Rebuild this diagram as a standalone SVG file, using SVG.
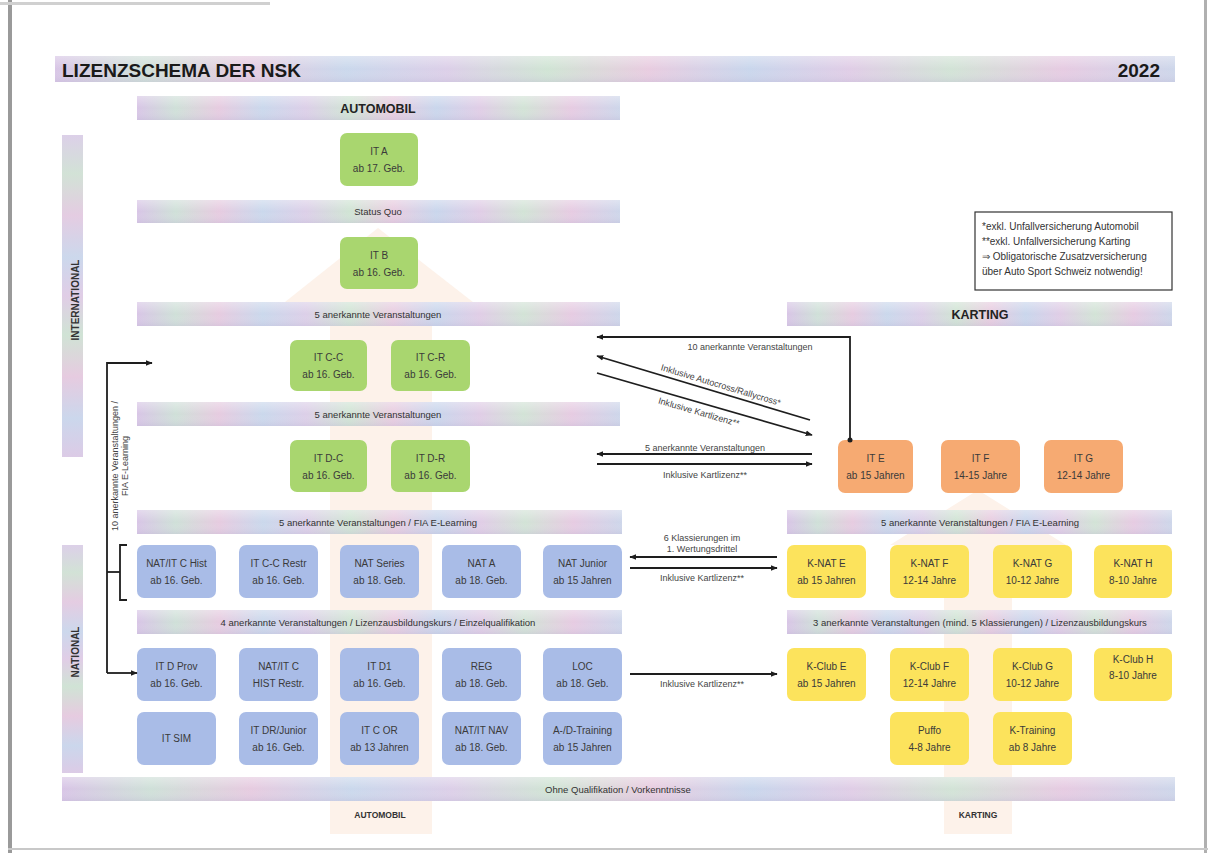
<svg xmlns="http://www.w3.org/2000/svg" width="1218" height="853" viewBox="0 0 1218 853">
<defs>
<linearGradient id="rb" x1="0" y1="0" x2="1" y2="0">
<stop offset="0" stop-color="#d8c5e6"/>
<stop offset="0.08" stop-color="#cfe0d8"/>
<stop offset="0.17" stop-color="#e6cbe0"/>
<stop offset="0.26" stop-color="#cad8ec"/>
<stop offset="0.35" stop-color="#dccfe8"/>
<stop offset="0.44" stop-color="#d0e4d4"/>
<stop offset="0.53" stop-color="#e8cce0"/>
<stop offset="0.62" stop-color="#c9d6ec"/>
<stop offset="0.71" stop-color="#e0cde6"/>
<stop offset="0.80" stop-color="#d2e3d6"/>
<stop offset="0.90" stop-color="#e6cbe2"/>
<stop offset="1" stop-color="#cdd6ea"/>
</linearGradient>
<linearGradient id="rbv" x1="0" y1="0" x2="0" y2="1">
<stop offset="0" stop-color="#dcd0e8"/>
<stop offset="0.12" stop-color="#d2e2d6"/>
<stop offset="0.25" stop-color="#e4cce2"/>
<stop offset="0.38" stop-color="#ccd8ec"/>
<stop offset="0.5" stop-color="#e0cde6"/>
<stop offset="0.62" stop-color="#d0e3d5"/>
<stop offset="0.75" stop-color="#e6cbe0"/>
<stop offset="0.88" stop-color="#cbd7ec"/>
<stop offset="1" stop-color="#dccbe6"/>
</linearGradient>
<linearGradient id="sheen" x1="0" y1="0" x2="0" y2="1">
<stop offset="0" stop-color="#ffffff" stop-opacity="0.35"/>
<stop offset="0.5" stop-color="#ffffff" stop-opacity="0"/>
<stop offset="1" stop-color="#b8b0d0" stop-opacity="0.25"/>
</linearGradient>
<marker id="ah" viewBox="0 0 10 10" refX="9" refY="5" markerWidth="7" markerHeight="7" orient="auto-start-reverse" markerUnits="userSpaceOnUse">
<path d="M0,1 L10,5 L0,9 Z" fill="#1e1e1e"/>
</marker>
<style>
.bar{fill:url(#rb)}
.vbar{fill:url(#rbv)}
.sh{fill:url(#sheen)}
.bt{font-family:"Liberation Sans Narrow","Liberation Sans",Arial,sans-serif;font-size:9.5px;fill:#333;text-anchor:middle}
.bh{font-family:"Liberation Sans",Arial,sans-serif;font-size:12.5px;font-weight:bold;fill:#222;text-anchor:middle}
.g rect{fill:#a9d66f}
.b rect{fill:#a9bce7}
.o rect{fill:#f6aa72}
.y rect{fill:#fce35c}
.nt{font-family:"Liberation Sans Narrow","Liberation Sans",Arial,sans-serif;font-size:10px;fill:#3a3a3a;text-anchor:middle}
.cl{font-family:"Liberation Sans",Arial,sans-serif;font-size:9px;fill:#444;text-anchor:middle}
.conn path,.conn line{stroke:#1e1e1e;stroke-width:1.8;fill:none}
.lg{font-family:"Liberation Sans",Arial,sans-serif;font-size:10px;fill:#333}
.bg{fill:#fdf2ea}
</style>
</defs>
<rect x="0" y="0" width="1218" height="853" fill="#ffffff"/>
<!-- page edges -->
<rect x="8" y="0" width="4" height="853" fill="#9a9a9a"/>
<rect x="1204" y="0" width="3" height="853" fill="#b0b0b0"/>
<rect x="0" y="2" width="270" height="3" fill="#d0d0d0"/>
<rect x="8" y="848" width="1200" height="2" fill="#c8c8c8"/>

<!-- faint background arrows -->
<g id="bg-arrows">
<polygon class="bg" points="280,306 378,228 478,306 432,306 432,834 330,834 330,306"/>
<polygon class="bg" points="890,545 978,490 1066,545 1012,545 1012,834 944,834 944,545"/>
</g>

<!-- title -->
<g id="title">
<rect class="bar" x="55" y="56" width="1120" height="26"/>
<rect class="sh" x="55" y="56" width="1120" height="26"/>
<text x="62" y="77" font-family="Liberation Sans, Arial, sans-serif" font-size="19" font-weight="bold" fill="#1a1a1a">LIZENZSCHEMA DER NSK</text>
<text x="1160" y="77" font-family="Liberation Sans, Arial, sans-serif" font-size="19" font-weight="bold" fill="#1a1a1a" text-anchor="end">2022</text>
</g>

<!-- side bars -->
<g id="side-international">
<rect class="vbar" x="62" y="135" width="21" height="322"/>
<text transform="translate(79,300) rotate(-90)" font-family="Liberation Sans Narrow, Liberation Sans, Arial, sans-serif" font-size="10" font-weight="bold" fill="#333" text-anchor="middle">INTERNATIONAL</text>
</g>
<g id="side-national">
<rect class="vbar" x="62" y="545" width="21" height="228"/>
<text transform="translate(79,652) rotate(-90)" font-family="Liberation Sans Narrow, Liberation Sans, Arial, sans-serif" font-size="10" font-weight="bold" fill="#333" text-anchor="middle">NATIONAL</text>
</g>

<!-- automobile bars -->
<g id="bar-automobil"><rect class="bar" x="137" y="96" width="483" height="24"/><rect class="sh" x="137" y="96" width="483" height="24"/><text class="bh" x="378" y="113">AUTOMOBIL</text></g>
<g id="bar-statusquo"><rect class="bar" x="137" y="200" width="483" height="23"/><rect class="sh" x="137" y="200" width="483" height="23"/><text class="bt" x="378" y="215">Status Quo</text></g>
<g id="bar-auto-5a"><rect class="bar" x="137" y="302" width="483" height="24"/><rect class="sh" x="137" y="302" width="483" height="24"/><text class="bt" x="378" y="318">5 anerkannte Veranstaltungen</text></g>
<g id="bar-auto-5b"><rect class="bar" x="137" y="402" width="483" height="24"/><rect class="sh" x="137" y="402" width="483" height="24"/><text class="bt" x="378" y="418">5 anerkannte Veranstaltungen</text></g>
<g id="bar-auto-fia"><rect class="bar" x="137" y="510" width="485" height="24"/><rect class="sh" x="137" y="510" width="485" height="24"/><text class="bt" x="378" y="526">5 anerkannte Veranstaltungen / FIA E-Learning</text></g>
<g id="bar-auto-4"><rect class="bar" x="137" y="610" width="485" height="24"/><rect class="sh" x="137" y="610" width="485" height="24"/><text class="bt" x="378" y="626">4 anerkannte Veranstaltungen / Lizenzausbildungskurs / Einzelqualifikation</text></g>

<!-- karting bars -->
<g id="bar-karting"><rect class="bar" x="787" y="302" width="385" height="24"/><rect class="sh" x="787" y="302" width="385" height="24"/><text class="bh" x="980" y="319">KARTING</text></g>
<g id="bar-kart-fia"><rect class="bar" x="787" y="510" width="385" height="24"/><rect class="sh" x="787" y="510" width="385" height="24"/><text class="bt" x="980" y="526">5 anerkannte Veranstaltungen / FIA E-Learning</text></g>
<g id="bar-kart-3"><rect class="bar" x="787" y="610" width="385" height="24"/><rect class="sh" x="787" y="610" width="385" height="24"/><text class="bt" x="980" y="626">3 anerkannte Veranstaltungen (mind. 5 Klassierungen) / Lizenzausbildungskurs</text></g>

<!-- bottom bar -->
<g id="bar-ohne"><rect class="bar" x="62" y="777" width="1113" height="24"/><rect class="sh" x="62" y="777" width="1113" height="24"/><text class="bt" x="618" y="793">Ohne Qualifikation / Vorkenntnisse</text></g>
<g id="label-automobil-bottom"><text x="380" y="818" font-family="Liberation Sans Narrow, Liberation Sans, Arial, sans-serif" font-size="8.5" font-weight="bold" fill="#333" text-anchor="middle">AUTOMOBIL</text></g>
<g id="label-karting-bottom"><text x="978" y="818" font-family="Liberation Sans Narrow, Liberation Sans, Arial, sans-serif" font-size="8.5" font-weight="bold" fill="#333" text-anchor="middle">KARTING</text></g>

<!-- legend -->
<g id="legend">
<rect x="975" y="212" width="197" height="78" fill="#ffffff" stroke="#333" stroke-width="1.2"/>
<text class="lg" x="982" y="230">*exkl. Unfallversicherung Automobil</text>
<text class="lg" x="982" y="245">**exkl. Unfallversicherung Karting</text>
<text class="lg" x="982" y="260">⇒ Obligatorische Zusatzversicherung</text>
<text class="lg" x="982" y="275">über Auto Sport Schweiz notwendig!</text>
</g>

<!-- green nodes -->
<g id="it-a" class="g"><rect x="340" y="133" width="78" height="53" rx="7"/><text class="nt" x="379" y="155">IT A</text><text class="nt" x="379" y="172">ab 17. Geb.</text></g>
<g id="it-b" class="g"><rect x="340" y="237" width="78" height="52" rx="7"/><text class="nt" x="379" y="259">IT B</text><text class="nt" x="379" y="276">ab 16. Geb.</text></g>
<g id="it-c-c" class="g"><rect x="290" y="340" width="77" height="51" rx="7"/><text class="nt" x="328.5" y="361">IT C-C</text><text class="nt" x="328.5" y="378">ab 16. Geb.</text></g>
<g id="it-c-r" class="g"><rect x="391" y="340" width="79" height="51" rx="7"/><text class="nt" x="430.5" y="361">IT C-R</text><text class="nt" x="430.5" y="378">ab 16. Geb.</text></g>
<g id="it-d-c" class="g"><rect x="290" y="440" width="77" height="52" rx="7"/><text class="nt" x="328.5" y="462">IT D-C</text><text class="nt" x="328.5" y="479">ab 16. Geb.</text></g>
<g id="it-d-r" class="g"><rect x="391" y="440" width="79" height="52" rx="7"/><text class="nt" x="430.5" y="462">IT D-R</text><text class="nt" x="430.5" y="479">ab 16. Geb.</text></g>

<!-- blue nodes row 1 -->
<g id="nat-it-c-hist" class="b"><rect x="137" y="545" width="79" height="53" rx="7"/><text class="nt" x="176.5" y="567">NAT/IT C Hist</text><text class="nt" x="176.5" y="584">ab 16. Geb.</text></g>
<g id="it-c-c-restr" class="b"><rect x="239" y="545" width="79" height="53" rx="7"/><text class="nt" x="278.5" y="567">IT C-C Restr</text><text class="nt" x="278.5" y="584">ab 16. Geb.</text></g>
<g id="nat-series" class="b"><rect x="340" y="545" width="79" height="53" rx="7"/><text class="nt" x="379.5" y="567">NAT Series</text><text class="nt" x="379.5" y="584">ab 18. Geb.</text></g>
<g id="nat-a" class="b"><rect x="442" y="545" width="79" height="53" rx="7"/><text class="nt" x="481.5" y="567">NAT A</text><text class="nt" x="481.5" y="584">ab 18. Geb.</text></g>
<g id="nat-junior" class="b"><rect x="543" y="545" width="79" height="53" rx="7"/><text class="nt" x="582.5" y="567">NAT Junior</text><text class="nt" x="582.5" y="584">ab 15 Jahren</text></g>
<!-- blue nodes row 2 -->
<g id="it-d-prov" class="b"><rect x="137" y="648" width="79" height="53" rx="7"/><text class="nt" x="176.5" y="670">IT D Prov</text><text class="nt" x="176.5" y="687">ab 16. Geb.</text></g>
<g id="nat-it-c-hist-restr" class="b"><rect x="239" y="648" width="79" height="53" rx="7"/><text class="nt" x="278.5" y="670">NAT/IT C</text><text class="nt" x="278.5" y="687">HIST Restr.</text></g>
<g id="it-d1" class="b"><rect x="340" y="648" width="79" height="53" rx="7"/><text class="nt" x="379.5" y="670">IT D1</text><text class="nt" x="379.5" y="687">ab 16. Geb.</text></g>
<g id="reg" class="b"><rect x="442" y="648" width="79" height="53" rx="7"/><text class="nt" x="481.5" y="670">REG</text><text class="nt" x="481.5" y="687">ab 18. Geb.</text></g>
<g id="loc" class="b"><rect x="543" y="648" width="79" height="53" rx="7"/><text class="nt" x="582.5" y="670">LOC</text><text class="nt" x="582.5" y="687">ab 18. Geb.</text></g>
<!-- blue nodes row 3 -->
<g id="it-sim" class="b"><rect x="137" y="712" width="79" height="53" rx="7"/><text class="nt" x="176.5" y="742">IT SIM</text></g>
<g id="it-dr-junior" class="b"><rect x="239" y="712" width="79" height="53" rx="7"/><text class="nt" x="278.5" y="734">IT DR/Junior</text><text class="nt" x="278.5" y="751">ab 16. Geb.</text></g>
<g id="it-c-or" class="b"><rect x="340" y="712" width="79" height="53" rx="7"/><text class="nt" x="379.5" y="734">IT C OR</text><text class="nt" x="379.5" y="751">ab 13 Jahren</text></g>
<g id="nat-it-nav" class="b"><rect x="442" y="712" width="79" height="53" rx="7"/><text class="nt" x="481.5" y="734">NAT/IT NAV</text><text class="nt" x="481.5" y="751">ab 18. Geb.</text></g>
<g id="ad-training" class="b"><rect x="543" y="712" width="79" height="53" rx="7"/><text class="nt" x="582.5" y="734">A-/D-Training</text><text class="nt" x="582.5" y="751">ab 15 Jahren</text></g>

<!-- orange nodes -->
<g id="it-e" class="o"><rect x="838" y="440" width="75" height="53" rx="7"/><text class="nt" x="875.5" y="462">IT E</text><text class="nt" x="875.5" y="479">ab 15 Jahren</text></g>
<g id="it-f" class="o"><rect x="941" y="440" width="79" height="53" rx="7"/><text class="nt" x="980.5" y="462">IT F</text><text class="nt" x="980.5" y="479">14-15 Jahre</text></g>
<g id="it-g" class="o"><rect x="1044" y="440" width="79" height="53" rx="7"/><text class="nt" x="1083.5" y="462">IT G</text><text class="nt" x="1083.5" y="479">12-14 Jahre</text></g>

<!-- yellow nodes -->
<g id="k-nat-e" class="y"><rect x="787" y="545" width="79" height="53" rx="7"/><text class="nt" x="826.5" y="567">K-NAT E</text><text class="nt" x="826.5" y="584">ab 15 Jahren</text></g>
<g id="k-nat-f" class="y"><rect x="890" y="545" width="79" height="53" rx="7"/><text class="nt" x="929.5" y="567">K-NAT F</text><text class="nt" x="929.5" y="584">12-14 Jahre</text></g>
<g id="k-nat-g" class="y"><rect x="993" y="545" width="79" height="53" rx="7"/><text class="nt" x="1032.5" y="567">K-NAT G</text><text class="nt" x="1032.5" y="584">10-12 Jahre</text></g>
<g id="k-nat-h" class="y"><rect x="1094" y="545" width="78" height="53" rx="7"/><text class="nt" x="1133" y="567">K-NAT H</text><text class="nt" x="1133" y="584">8-10 Jahre</text></g>
<g id="k-club-e" class="y"><rect x="787" y="648" width="79" height="53" rx="7"/><text class="nt" x="826.5" y="670">K-Club E</text><text class="nt" x="826.5" y="687">ab 15 Jahren</text></g>
<g id="k-club-f" class="y"><rect x="890" y="648" width="79" height="53" rx="7"/><text class="nt" x="929.5" y="670">K-Club F</text><text class="nt" x="929.5" y="687">12-14 Jahre</text></g>
<g id="k-club-g" class="y"><rect x="993" y="648" width="79" height="53" rx="7"/><text class="nt" x="1032.5" y="670">K-Club G</text><text class="nt" x="1032.5" y="687">10-12 Jahre</text></g>
<g id="k-club-h" class="y"><rect x="1094" y="648" width="78" height="53" rx="7"/><text class="nt" x="1133" y="663">K-Club H</text><text class="nt" x="1133" y="679">8-10 Jahre</text></g>
<g id="puffo" class="y"><rect x="890" y="712" width="79" height="53" rx="7"/><text class="nt" x="929.5" y="734">Puffo</text><text class="nt" x="929.5" y="751">4-8 Jahre</text></g>
<g id="k-training" class="y"><rect x="993" y="712" width="79" height="53" rx="7"/><text class="nt" x="1032.5" y="734">K-Training</text><text class="nt" x="1032.5" y="751">ab 8 Jahre</text></g>

<!-- connectors -->
<g id="connectors" class="conn">
<path d="M850,440 V337 H597" marker-end="url(#ah)"/>
<circle cx="850" cy="440" r="2.5" fill="#1e1e1e"/>
<path d="M810,420 L597,356" marker-end="url(#ah)"/>
<path d="M597,373 L812,435" marker-end="url(#ah)"/>
<path d="M812,454 H597" marker-end="url(#ah)"/>
<path d="M597,464 H812" marker-end="url(#ah)"/>
<path d="M777,557 H630" marker-end="url(#ah)"/>
<path d="M630,568 H777" marker-end="url(#ah)"/>
<path d="M630,674 H777" marker-end="url(#ah)"/>
<path d="M107,673 V363 H152" marker-end="url(#ah)"/>
<path d="M107,673 H137" marker-end="url(#ah)"/>
<path d="M107,572 H120"/>
<path d="M127,545 H120 V600 H127"/>
<text class="cl" x="750" y="350">10 anerkannte Veranstaltungen</text>
<text class="cl" transform="translate(720,388) rotate(16.7)">Inklusive Autocross/Rallycross*</text>
<text class="cl" transform="translate(698,415) rotate(16.2)">Inklusive Kartlizenz**</text>
<text class="cl" x="705" y="451">5 anerkannte Veranstaltungen</text>
<text class="cl" x="705" y="478">Inklusive Kartlizenz**</text>
<text class="cl" x="702" y="541">6 Klassierungen im</text>
<text class="cl" x="702" y="552">1. Wertungsdrittel</text>
<text class="cl" x="702" y="581">Inklusive Kartlizenz**</text>
<text class="cl" x="702" y="687">Inklusive Kartlizenz**</text>
<text class="cl" transform="translate(118,466) rotate(-90)">10 anerkannte Veranstaltungen /</text>
<text class="cl" transform="translate(128,466) rotate(-90)">FIA E-Learning</text>
</g>
</svg>
